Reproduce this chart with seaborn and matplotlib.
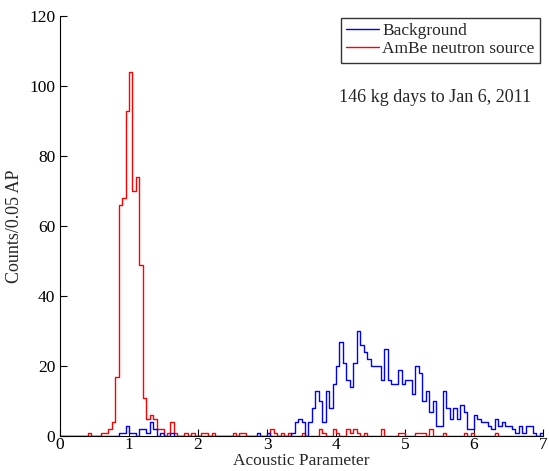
import numpy as np
import pandas as pd
import matplotlib
matplotlib.use("Agg")
import matplotlib.pyplot as plt
from matplotlib.lines import Line2D
import seaborn as sns

# Counts per 0.05 AP bin, bins start at 0.00, 0.05, ..., 6.95 (140 bins)
ambe_counts = [
    0, 0, 0, 0, 0, 0, 0, 0, 1, 0,          # 0.00-0.45
    0, 0, 1, 1, 2, 4, 17, 66, 68, 93,      # 0.50-0.95
    104, 70, 74, 49, 11, 5, 6, 5, 2, 2,    # 1.00-1.45
    0, 1, 4, 1, 0, 0, 1, 0, 1, 0,          # 1.50-1.95
    0, 1, 1, 0, 1, 0, 0, 0, 0, 0,          # 2.00-2.45
    1, 0, 1, 1, 0, 0, 0, 0, 0, 0,          # 2.50-2.95
    0, 2, 1, 0, 1, 0, 1, 0, 0, 0,          # 3.00-3.45
    1, 0, 0, 0, 0, 2, 1, 0, 0, 2,          # 3.50-3.95
    1, 0, 0, 2, 1, 2, 1, 0, 1, 0,          # 4.00-4.45
    0, 0, 0, 2, 0, 0, 0, 0, 1, 1,          # 4.50-4.95
    0, 0, 0, 1, 1, 1, 0, 2, 0, 0,          # 5.00-5.45
    0, 1, 0, 0, 0, 0, 0, 1, 0, 1,          # 5.50-5.95
    0, 0, 0, 0, 0, 0, 1, 0, 0, 0,          # 6.00-6.45
    0, 0, 0, 0, 0, 0, 0, 0, 0, 0,          # 6.50-6.95
]
background_counts = [
    0, 0, 0, 0, 0, 0, 0, 0, 0, 0,          # 0.00-0.45
    0, 0, 0, 0, 0, 0, 0, 1, 1, 3,          # 0.50-0.95
    1, 1, 0, 2, 2, 1, 4, 2, 0, 1,          # 1.00-1.45
    0, 0, 1, 0, 0, 0, 0, 0, 0, 0,          # 1.50-1.95
    0, 0, 0, 0, 0, 0, 0, 0, 0, 0,          # 2.00-2.45
    0, 0, 0, 0, 0, 0, 0, 1, 0, 0,          # 2.50-2.95
    1, 0, 0, 0, 0, 0, 0, 1, 4, 5,          # 3.00-3.45
    4, 0, 4, 8, 13, 10, 4, 13, 8, 15,      # 3.50-3.95
    20, 27, 21, 16, 14, 21, 30, 26, 24, 22,  # 4.00-4.45
    20, 20, 20, 16, 25, 16, 15, 15, 19, 15,  # 4.50-4.95
    16, 16, 12, 20, 18, 10, 13, 7, 10, 3,  # 5.00-5.45
    3, 13, 8, 5, 8, 5, 9, 7, 2, 2,         # 5.50-5.95
    6, 5, 4, 4, 3, 2, 5, 3, 4, 3,          # 6.00-6.45
    3, 2, 1, 3, 1, 3, 3, 1, 0, 1,          # 6.50-6.95
]
x_ticks = [0, 1, 2, 3, 4, 5, 6, 7]
y_ticks = [0, 20, 40, 60, 80, 100, 120]
series_labels = ["Background", "AmBe neutron source"]
annotation = "146 kg days to Jan 6, 2011"

bin_width = 0.05
n_bins = len(ambe_counts)
centers = (np.arange(n_bins) + 0.5) * bin_width
df_ambe = pd.DataFrame({"ap": centers, "count": ambe_counts})
df_bg = pd.DataFrame({"ap": centers, "count": background_counts})

sns.set_style("ticks")
plt.rcParams["font.family"] = ["Liberation Serif", "DejaVu Serif"]

fig = plt.figure(figsize=(5.49, 4.71), dpi=100)
ax = fig.add_axes([60 / 549, 1 - 436 / 471, 483 / 549, 420 / 471])

sns.histplot(data=df_ambe, x="ap", weights="count", binwidth=bin_width,
             binrange=(0, n_bins * bin_width), element="step",
             fill=False, color="#ff0000", linewidth=1.0, ax=ax)
sns.histplot(data=df_bg, x="ap", weights="count", binwidth=bin_width,
             binrange=(0, n_bins * bin_width), element="step",
             fill=False, color="#0000ff", linewidth=1.0, ax=ax)

ax.set_xlim(0, 7)
ax.set_ylim(0, 120)
ax.set_xticks(x_ticks)
ax.set_yticks(y_ticks)
ax.tick_params(direction="in", length=5, width=0.8, labelsize=12.5, colors="black")
ax.tick_params(axis="x", pad=1)
ax.set_xlabel("Acoustic Parameter", fontsize=12.5, labelpad=0)
ax.set_ylabel("Counts/0.05 AP", fontsize=13, labelpad=4)
for s in ["top", "right"]:
    ax.spines[s].set_visible(False)
for s in ["left", "bottom"]:
    ax.spines[s].set_linewidth(0.8)
    ax.spines[s].set_color("black")

handles = [Line2D([], [], color="#0000ff", lw=1.0),
           Line2D([], [], color="#ff0000", lw=1.0)]
leg = ax.legend(handles, series_labels, loc="upper right", fontsize=12.5,
                frameon=True, fancybox=False, edgecolor="black",
                handlelength=1.9, handletextpad=0.2, borderpad=0.3,
                labelspacing=0.12, borderaxespad=0.1,
                bbox_to_anchor=(0.997, 1.0))
leg.get_frame().set_linewidth(1.0)

ax.text(0.776, 0.805, annotation, transform=ax.transAxes, ha="center",
        va="center", fontsize=13)

fig.savefig("out.png", dpi=100)
